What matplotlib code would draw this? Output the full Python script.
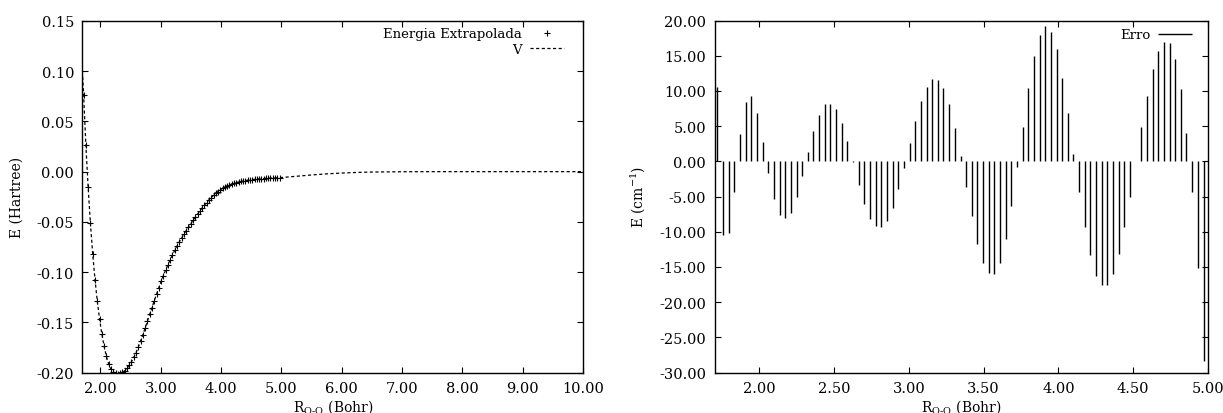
import numpy as np
import matplotlib
matplotlib.use('Agg')
import matplotlib.pyplot as plt

# grid of R_O-O (Bohr), same points for both panels
r_bohr = [1.720, 1.757, 1.795, 1.833, 1.871, 1.909, 1.946, 1.984, 2.022, 2.060,
          2.098, 2.135, 2.173, 2.211, 2.249, 2.286, 2.324, 2.362, 2.400, 2.438,
          2.475, 2.513, 2.551, 2.589, 2.627, 2.664, 2.702, 2.740, 2.778, 2.816,
          2.853, 2.891, 2.929, 2.967, 3.005, 3.042, 3.080, 3.118, 3.156, 3.193,
          3.231, 3.269, 3.307, 3.345, 3.382, 3.420, 3.458, 3.496, 3.534, 3.571,
          3.609, 3.647, 3.685, 3.723, 3.760, 3.798, 3.836, 3.874, 3.911, 3.949,
          3.987, 4.025, 4.063, 4.100, 4.138, 4.176, 4.214, 4.252, 4.289, 4.327,
          4.365, 4.403, 4.441, 4.478, 4.516, 4.554, 4.592, 4.630, 4.667, 4.705,
          4.743, 4.781, 4.818, 4.856, 4.894, 4.932, 4.970]

# extrapolated energy (Hartree)
e_extrap = [0.0765, 0.0270, -0.0155, -0.0515, -0.0820, -0.1075, -0.1285, -0.1465, -0.1615, -0.1740,
            -0.1840, -0.1915, -0.1965, -0.1995, -0.2005, -0.2010, -0.2005, -0.1995, -0.1985, -0.1960,
            -0.1929, -0.1894, -0.1849, -0.1803, -0.1747, -0.1688, -0.1626, -0.1558, -0.1490, -0.1421,
            -0.1355, -0.1286, -0.1221, -0.1156, -0.1093, -0.1037, -0.0980, -0.0927, -0.0877, -0.0829,
            -0.0784, -0.0741, -0.0698, -0.0660, -0.0623, -0.0587, -0.0553, -0.0518, -0.0486, -0.0455,
            -0.0423, -0.0392, -0.0362, -0.0334, -0.0308, -0.0281, -0.0258, -0.0236, -0.0215, -0.0198,
            -0.0181, -0.0167, -0.0154, -0.0142, -0.0133, -0.0124, -0.0116, -0.0109, -0.0103, -0.0098,
            -0.0093, -0.0089, -0.0085, -0.0082, -0.0079, -0.0077, -0.0075, -0.0072, -0.0071, -0.0069,
            -0.0067, -0.0066, -0.0064, -0.0063, -0.0062, -0.0061, -0.0060]

# fitted potential V beyond the data range
r_tail = [5.25, 5.50, 5.75, 6.00, 6.25, 6.50, 7.00, 7.50, 8.00, 9.00, 10.00]
v_tail = [-0.0046, -0.0033, -0.0022, -0.0014, -0.0008, -0.0004, -0.0001, 0.0, 0.0, 0.0, 0.0]
r_head = [1.70]
v_head = [0.100]

# error of the fit (cm-1)
erro = [10.5, -10.4, -10.2, -4.3, 3.9, 8.4, 9.3, 6.9, 2.7, -1.7,
        -5.4, -7.6, -8.1, -7.3, -5.1, -2.1, 1.3, 4.3, 6.6, 8.1,
        8.2, 7.4, 5.5, 2.9, -0.1, -3.4, -6.1, -8.2, -9.2, -9.3,
        -8.5, -6.7, -3.9, -0.9, 2.6, 5.7, 8.6, 10.6, 11.7, 11.6,
        10.4, 8.1, 4.7, 0.8, -3.6, -7.7, -11.7, -14.5, -15.9, -16.0,
        -14.4, -11.1, -6.4, -0.8, 4.9, 10.4, 15.0, 18.0, 19.2, 18.4,
        16.0, 11.9, 6.8, 1.1, -4.3, -9.4, -13.3, -16.3, -17.5, -17.5,
        -16.0, -13.2, -9.4, -5.0, 0.05, 4.9, 9.3, 13.1, 15.7, 17.0,
        16.8, 14.5, 10.3, 4.0, -4.4, -15.2, -28.4]

left_xticks = [2, 3, 4, 5, 6, 7, 8, 9, 10]
left_yticks = [0.15, 0.10, 0.05, 0.00, -0.05, -0.10, -0.15, -0.20]
right_xticks = [2.0, 2.5, 3.0, 3.5, 4.0, 4.5, 5.0]
right_yticks = [20, 15, 10, 5, 0, -5, -10, -15, -20, -25, -30]

plt.rcParams['font.family'] = 'DejaVu Serif'
plt.rcParams['mathtext.fontset'] = 'dejavuserif'
plt.rcParams['axes.unicode_minus'] = False
plt.rcParams['font.size'] = 10


def style_axes(ax):
    ax.tick_params(direction='in', length=4, width=0.8, top=True, right=True,
                   labelsize=10.5, pad=6)
    for s in ax.spines.values():
        s.set_linewidth(1.0)


fig = plt.figure(figsize=(12.23, 4.14), dpi=100)
ax1 = fig.add_axes([82.4 / 1223, 1 - 373.5 / 414, (583 - 82.4) / 1223, (373.5 - 22) / 414])
ax2 = fig.add_axes([714.5 / 1223, 1 - 373.5 / 414, (1208 - 714.5) / 1223, (373.5 - 21.5) / 414])

# left panel
r_v = r_head + r_bohr + r_tail
v_all = v_head + e_extrap + v_tail
ax1.plot(r_bohr, e_extrap, linestyle='none', marker='+', color='black',
         markersize=5, markeredgewidth=0.8, label='Energia Extrapolada')
ax1.plot(r_v, v_all, color='black', linewidth=0.9, dashes=(2.5, 2), label='V')
ax1.set_xlim(1.70, 10.0)
ax1.set_ylim(-0.20, 0.15)
ax1.set_xticks(left_xticks)
ax1.set_yticks(left_yticks)
ax1.xaxis.set_major_formatter(matplotlib.ticker.FormatStrFormatter('%.2f'))
ax1.yaxis.set_major_formatter(matplotlib.ticker.FormatStrFormatter('%.2f'))
ax1.set_xlabel('R$_{\\mathrm{O\u2010O}}$ (Bohr)', labelpad=2)
ax1.set_ylabel('E (Hartree)', labelpad=9)
style_axes(ax1)
ax1.legend(loc='upper right', bbox_to_anchor=(0.962, 0.982), frameon=False,
           markerfirst=False, handlelength=2.6, handletextpad=0.6,
           labelspacing=0.2, borderaxespad=0, borderpad=0, fontsize=9.5)

# right panel
ax2.vlines(r_bohr, 0, erro, color='black', linewidth=1.0, label='Erro')
ax2.set_xlim(1.70, 5.0)
ax2.set_ylim(-30, 20)
ax2.set_xticks(right_xticks)
ax2.set_yticks(right_yticks)
ax2.xaxis.set_major_formatter(matplotlib.ticker.FormatStrFormatter('%.2f'))
ax2.yaxis.set_major_formatter(matplotlib.ticker.FormatStrFormatter('%.2f'))
ax2.set_xlabel('R$_{\\mathrm{O\u2010O}}$ (Bohr)', labelpad=2)
ax2.set_ylabel('E (cm$^{-1}$)', labelpad=9)
style_axes(ax2)
ax2.legend(loc='upper right', bbox_to_anchor=(0.968, 0.978), frameon=False,
           markerfirst=False, handlelength=2.6, handletextpad=0.6,
           borderaxespad=0, borderpad=0, fontsize=9.5)

fig.savefig('out.png', dpi=100)
